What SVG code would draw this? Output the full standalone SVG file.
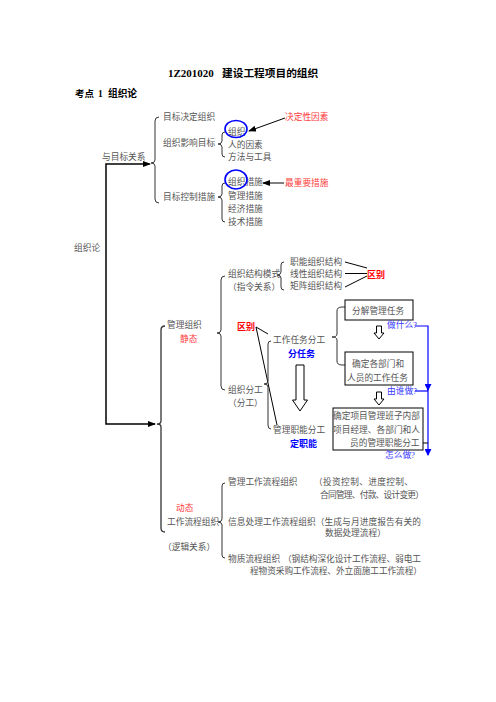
<svg xmlns="http://www.w3.org/2000/svg" width="496" height="702" viewBox="0 0 496 702">
<style>
text{font-family:"Liberation Serif","Noto Sans CJK SC",serif;font-size:8.7px;fill:#555}
.red{fill:#ff3a3a}
.redb{fill:#ff0000;font-weight:bold;font-size:9px}
.blue{fill:#3a3aff}
.blueb{fill:#0000ff;font-weight:bold;font-size:9px}
.h{fill:#000;font-weight:bold}
.br{fill:none;stroke:#333;stroke-width:1}
.ln{fill:none;stroke:#000;stroke-width:1}
.box{fill:#fff;stroke:#000;stroke-width:1}
.harrow{fill:#fff;stroke:#000;stroke-width:1}
.circ{fill:none;stroke:#0000ff;stroke-width:1.6}
.bl{fill:none;stroke:#0000ff;stroke-width:1.2}
</style>
<defs>
<marker id="ak" markerWidth="8" markerHeight="6" refX="7" refY="3" orient="auto" markerUnits="userSpaceOnUse"><path d="M0,0 L8,3 L0,6 Z" fill="#000"/></marker>
<marker id="ab" markerWidth="7" markerHeight="7" refX="6" refY="3.5" orient="auto" markerUnits="userSpaceOnUse"><path d="M0,0 L7,3.5 L0,7 Z" fill="#0000ff"/></marker>
</defs>
<rect width="496" height="702" fill="#fff"/>

<g id="title">
<text class="h" x="168" y="77" style="font-size:11px">1Z201020</text>
<text class="h" x="222" y="77" style="font-size:10.7px">建设工程项目的组织</text>
<text class="h" x="75" y="96.5" style="font-size:9.5px">考点</text>
<text class="h" x="98" y="96.5" style="font-size:9.5px">1</text>
<text class="h" x="108" y="96.5" style="font-size:9.7px">组织论</text>
</g>

<g id="connectors">
<path class="ln" d="M149,164 L106,164 L106,424 L155,424" style="stroke-width:1.5" marker-end="url(#ak)"/>
<path class="ln" d="M149,164 L150,164" marker-end="url(#ak)"/>
<line class="ln" x1="285" y1="118" x2="249" y2="131" marker-end="url(#ak)"/>
<line class="ln" x1="284" y1="183" x2="263" y2="183" marker-end="url(#ak)"/>
<line class="ln" x1="345" y1="262" x2="367" y2="268"/>
<line class="ln" x1="345" y1="273.5" x2="367" y2="273.5"/>
<line class="ln" x1="345" y1="287" x2="367" y2="276"/>
<line class="ln" x1="256" y1="327" x2="268" y2="334"/>
<line class="ln" x1="256" y1="327" x2="277" y2="425"/>
<polyline class="bl" points="415,326 428,326 428,389"/>
<line class="bl" x1="428" y1="389" x2="428" y2="455" marker-end="url(#ab)"/>
<line class="bl" x1="428" y1="384" x2="428" y2="390" marker-end="url(#ab)"/>
<line class="bl" x1="415" y1="391" x2="428" y2="391"/>
<line class="ln" x1="415" y1="443" x2="428" y2="443"/>
<polygon class="harrow" points="296,365 304,365 304,400 307.5,400 300,411 292.5,400 296,400"/>
<polygon class="harrow" points="376.5,326 381.5,326 381.5,333 384,333 379,339 374,333 376.5,333"/>
<polygon class="harrow" points="376.5,392 381.5,392 381.5,399 384,399 379,405 374,399 376.5,399"/>
</g>

<g id="braces">
<path class="br" d="M159,117 Q155,117 155,121 L155,160 Q155,163 151,163 Q155,163 155,166 L155,199 Q155,203 159,203"/>
<path class="br" d="M225,132 Q222,132 222,135 L222,141 Q222,144 218,144 Q222,144 222,147 L222,154 Q222,157 225,157"/>
<path class="br" d="M225,183 Q222,183 222,186 L222,194 Q222,197 218,197 Q222,197 222,200 L222,219 Q222,222 225,222"/>
<path class="br" d="M284,262 Q281,262 281,265 L281,272 Q281,275 277,275 Q281,275 281,278 L281,287 Q281,290 284,290"/>
<path class="br" d="M225,276 Q221,276 221,280 L221,330 Q221,333 217,333 Q221,333 221,336 L221,386 Q221,390 225,390"/>
<path class="br" d="M165,326 Q161,326 161,330 L161,421 Q161,424 157,424 Q161,424 161,427 L161,528 Q161,532 165,532" style="stroke-width:1.3"/>
<path class="br" d="M271,341 Q268,341 268,344 L268,381 Q268,384 264,384 Q268,384 268,387 L268,425 Q268,429 271,429"/>
<path class="br" d="M345,307 L342,307 Q337,307 337,311 L337,334 Q337,337 332,337 Q337,337 337,340 L337,361 Q337,365 342,365 L345,365"/>
<path class="br" d="M225,483 Q222,483 222,486 L222,519 Q222,522 218,522 Q222,522 222,525 L222,555 Q222,558 225,558"/>
</g>

<g id="n-root"><text x="74" y="251">组织论</text></g>
<g id="n-goal"><text x="102" y="160">与目标关系</text></g>
<g id="n-g1"><text x="163" y="120">目标决定组织</text></g>
<g id="n-g2">
<text x="163" y="146">组织影响目标</text>
<text x="228" y="135">组织</text>
<text x="228" y="147.5">人的因素</text>
<text x="228" y="160">方法与工具</text>
<ellipse class="circ" cx="236" cy="129" rx="11" ry="8.5"/>
<text class="red" x="285" y="120">决定性因素</text>
</g>
<g id="n-g3">
<text x="163" y="200">目标控制措施</text>
<text x="228" y="185">组织措施</text>
<text x="228" y="198.5">管理措施</text>
<text x="228" y="212">经济措施</text>
<text x="228" y="225">技术措施</text>
<ellipse class="circ" cx="236" cy="179.5" rx="11" ry="9.5"/>
<text class="red" x="285" y="186">最重要措施</text>
</g>
<g id="n-mgmt">
<text x="167" y="328">管理组织</text>
<text class="red" x="180" y="342">静态</text>
</g>
<g id="n-struct">
<text x="228" y="276.5">组织结构模式</text>
<text x="228" y="290">（指令关系）</text>
<text x="290" y="265">职能组织结构</text>
<text x="290" y="276.5">线性组织结构</text>
<text x="290" y="289">矩阵组织结构</text>
<text class="redb" x="367" y="277.5">区别</text>
</g>
<g id="n-div">
<text x="228" y="393">组织分工</text>
<text x="228" y="406">（分工）</text>
<text class="redb" x="237" y="329.5">区别</text>
<text x="273" y="343">工作任务分工</text>
<text class="blueb" x="288" y="356.5">分任务</text>
<text x="273" y="433">管理职能分工</text>
<text class="blueb" x="290" y="446.5">定职能</text>
</g>
<g id="n-box1">
<rect class="box" x="345" y="300" width="68" height="20"/>
<text x="352" y="313.5">分解管理任务</text>
<text class="blue" x="387" y="328">做什么?</text>
</g>
<g id="n-box2">
<rect class="box" x="345" y="352" width="68" height="33"/>
<text x="352" y="367">确定各部门和</text>
<text x="347" y="381">人员的工作任务</text>
<text class="blue" x="387" y="394">由谁做?</text>
</g>
<g id="n-box3">
<rect class="box" x="333" y="408" width="90" height="42"/>
<text x="333" y="418.5" textLength="87">确定项目管理班子内部</text>
<text x="333" y="433" textLength="87">项目经理、各部门和人</text>
<text x="350" y="446">员的管理职能分工</text>
<text class="blue" x="385" y="458">怎么做?</text>
</g>
<g id="n-flow">
<text class="red" x="176" y="511">动态</text>
<text x="167" y="525">工作流程组织</text>
<text x="163" y="550">（逻辑关系）</text>
<text x="228" y="485">管理工作流程组织</text>
<text x="314" y="485" textLength="99">（投资控制、进度控制、</text>
<text x="320" y="498" textLength="104">合同管理、付款、设计变更）</text>
<text x="228" y="525" textLength="193">信息处理工作流程组织（生成与月进度报告有关的</text>
<text x="325" y="536">数据处理流程）</text>
<text x="228" y="562">物质流程组织</text>
<text x="283" y="562" textLength="138">（钢结构深化设计工作流程、弱电工</text>
<text x="250" y="574" textLength="172">程物资采购工作流程、外立面施工工作流程）</text>
</g>
</svg>
